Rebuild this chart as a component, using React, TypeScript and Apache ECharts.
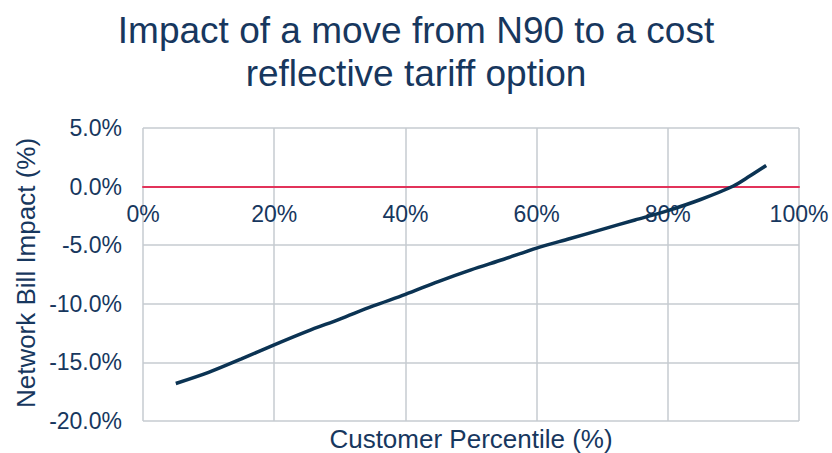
import React, { useEffect, useRef } from "react";
import * as echarts from "echarts";

const titleText = "Impact of a move from N90 to a cost\nreflective tariff option";
const xAxisName = "Customer Percentile (%)";
const yAxisName = "Network Bill Impact (%)";
const percentiles = [5, 10, 15, 20, 25, 30, 35, 40, 45, 50, 55, 60, 65, 70, 75, 80, 85, 90, 92.5, 95];
const billImpact = [-16.8, -15.85, -14.7, -13.5, -12.35, -11.3, -10.2, -9.2, -8.1, -7.1, -6.2, -5.25, -4.45, -3.65, -2.85, -2.05, -1.1, 0.05, 0.9, 1.8];

const textColor = "#17375E";
const lineColor = "#0B3353";
const gridColor = "#C6CBD0";
const zeroColor = "#E2335A";

const Y_MIN = -20;
const Y_MAX = 5;
const GRID_TOP = 128;
const GRID_BOTTOM = 32;
const GRID_H = 453 - GRID_TOP - GRID_BOTTOM;

export default function App() {
  const ref = useRef<HTMLDivElement>(null);
  useEffect(() => {
    if (!ref.current) return;
    const chart = echarts.init(ref.current, null, { renderer: "svg" });
    const font = "'Liberation Sans', Arial, sans-serif";
    const zeroOffset = -(GRID_H * (0 - Y_MIN)) / (Y_MAX - Y_MIN);
    chart.setOption({
      animation: false,
      backgroundColor: "#ffffff",
      textStyle: { fontFamily: font },
      grid: { left: 143, right: 33, top: GRID_TOP, bottom: GRID_BOTTOM, containLabel: false },
      xAxis: {
        type: "value",
        min: 0,
        max: 100,
        interval: 20,
        position: "bottom",
        offset: zeroOffset,
        axisLine: { show: true, onZero: false, lineStyle: { color: zeroColor, width: 2 } },
        axisTick: { show: false },
        axisLabel: {
          color: textColor,
          fontSize: 23,
          fontFamily: font,
          margin: 16,
          formatter: (v: number) => `${v}%`,
        },
        splitLine: { show: true, lineStyle: { color: gridColor, width: 1.5 } },
        z: 3,
      },
      yAxis: {
        type: "value",
        min: Y_MIN,
        max: Y_MAX,
        interval: 5,
        axisLine: { show: false },
        axisTick: { show: false },
        axisLabel: {
          color: textColor,
          fontSize: 23,
          fontFamily: font,
          margin: 21,
          formatter: (v: number) => `${v.toFixed(1)}%`,
        },
        splitLine: { show: true, lineStyle: { color: gridColor, width: 1.5 } },
      },
      graphic: [
        {
          type: "text",
          x: 416,
          y: 9,
          style: {
            text: titleText,
            fill: textColor,
            font: `37px ${font}`,
            lineHeight: 43,
            align: "center",
            verticalAlign: "top",
          },
        },
        {
          type: "text",
          x: 471,
          y: 439,
          style: {
            text: xAxisName,
            fill: textColor,
            font: `26px ${font}`,
            align: "center",
            verticalAlign: "middle",
          },
        },
        {
          type: "text",
          x: 26,
          y: 273,
          rotation: Math.PI / 2,
          style: {
            text: yAxisName,
            fill: textColor,
            font: `26px ${font}`,
            align: "center",
            verticalAlign: "middle",
          },
        },
      ],
      series: [
        {
          type: "line",
          data: percentiles.map((p, i) => [p, billImpact[i]]),
          showSymbol: false,
          smooth: 0.3,
          lineStyle: { color: lineColor, width: 3.5 },
          z: 5,
        },
      ],
    });
    return () => chart.dispose();
  }, []);
  return <div ref={ref} style={{ position: "fixed", left: 0, top: 0, width: 832, height: 453 }} />;
}
